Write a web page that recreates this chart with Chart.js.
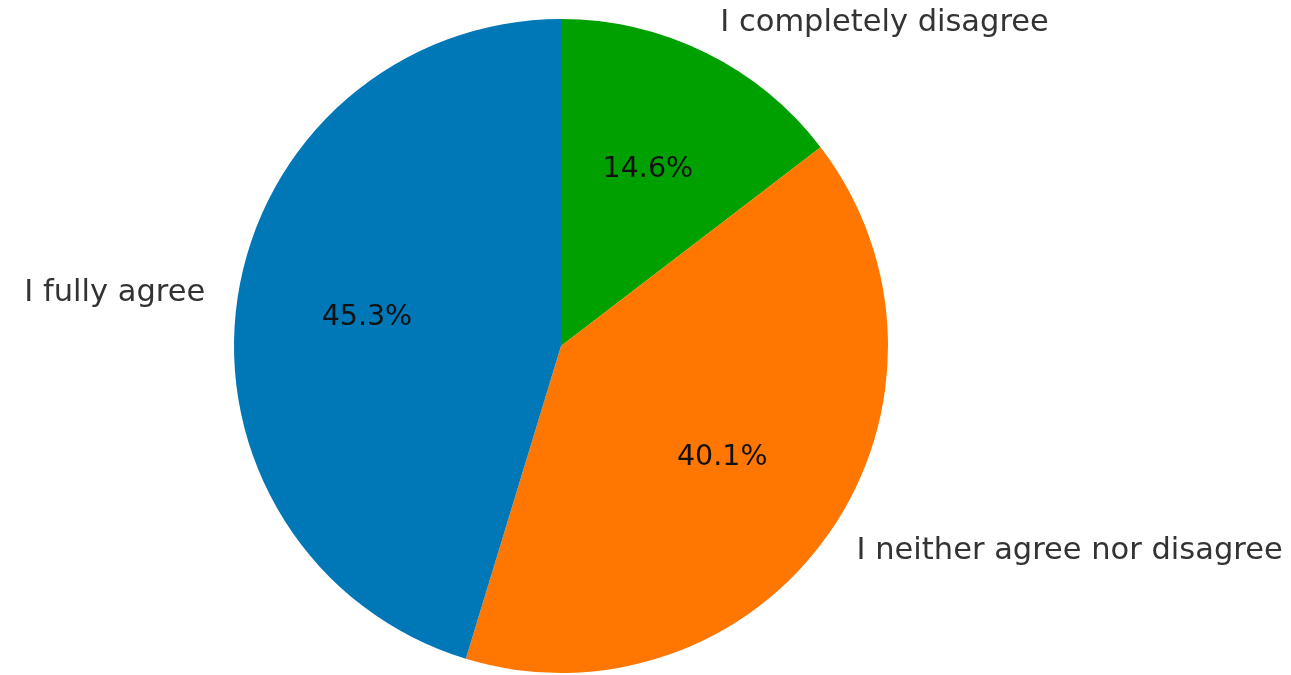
<!DOCTYPE html>
<html>
<head>
<meta charset="utf-8">
<script src="https://cdn.jsdelivr.net/npm/chart.js@4"></script>
<style>
  html, body { margin: 0; padding: 0; background: #fff; }
  #wrap { width: 1291px; height: 675px; }
</style>
</head>
<body>
<div id="wrap"><canvas id="pie"></canvas></div>
<script>
// drawn clockwise from the top, so the order is reversed vs. the original
const labels = ['I completely disagree', 'I neither agree nor disagree', 'I fully agree'];
const shares = [14.6, 40.1, 45.3];
const colors = ['#00a000', '#ff7700', '#0077b6'];

const LABEL_FONT = '30.5px "DejaVu Sans"';
const PCT_FONT = '28.5px "DejaVu Sans"';

// labels outside at 1.1 r, percentages inside at 0.6 r
const sliceText = {
  id: 'sliceText',
  afterDatasetsDraw(chart) {
    const c = chart.ctx;
    const arcs = chart.getDatasetMeta(0).data;
    c.save();
    c.textBaseline = 'middle';
    arcs.forEach((arc, i) => {
      const mid = (arc.startAngle + arc.endAngle) / 2;
      const r = arc.outerRadius;
      const cos = Math.cos(mid), sin = Math.sin(mid);
      c.font = PCT_FONT;
      c.fillStyle = '#111';
      c.textAlign = 'center';
      c.fillText(shares[i].toFixed(1) + '%', arc.x + 0.6 * r * cos, arc.y + 0.6 * r * sin);
      c.font = LABEL_FONT;
      c.fillStyle = '#333';
      c.textAlign = cos > 0 ? 'left' : 'right';
      c.fillText(labels[i], arc.x + 1.1 * r * cos, arc.y + 1.1 * r * sin);
    });
    c.restore();
  }
};

new Chart(document.getElementById('pie'), {
  type: 'pie',
  data: {
    labels: labels,
    datasets: [{
      data: shares,
      backgroundColor: colors,
      borderWidth: 0
    }]
  },
  options: {
    responsive: true,
    maintainAspectRatio: false,
    animation: false,
    rotation: 0,
    layout: { padding: { left: 234, right: 403, top: 19, bottom: 2 } },
    plugins: {
      legend: { display: false },
      tooltip: { enabled: false }
    }
  },
  plugins: [sliceText]
});
</script>
</body>
</html>
